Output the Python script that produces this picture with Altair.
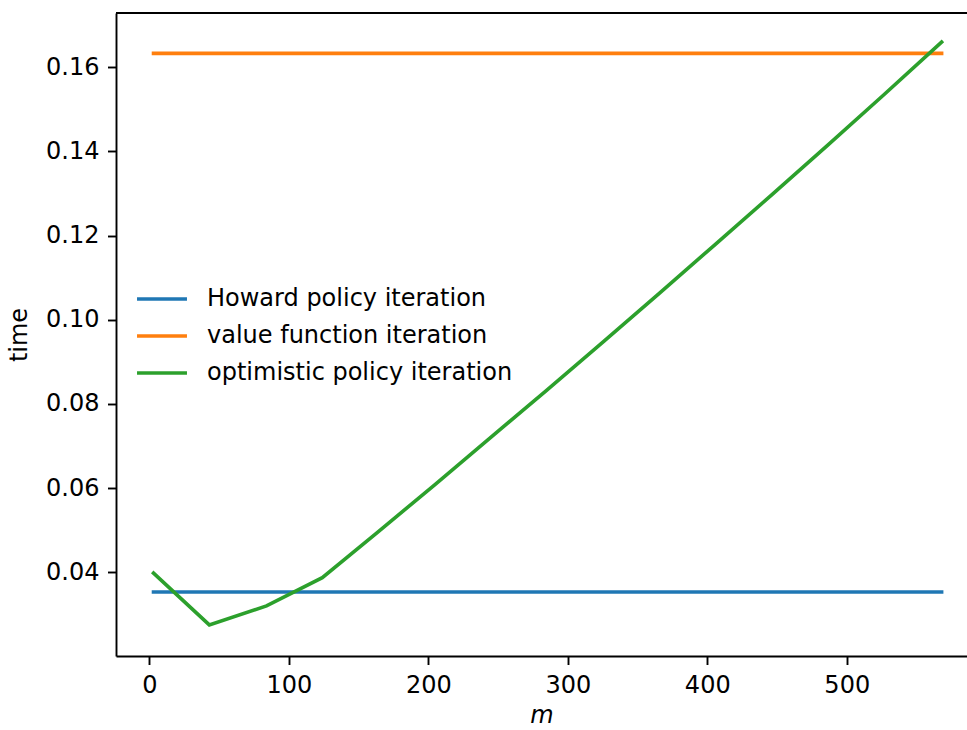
import altair as alt
import pandas as pd

# Grid of m values (steps of ~40) at which the solvers were timed
m_values = [3, 43, 84, 124, 164, 205, 245, 285, 326, 366, 406, 447, 487, 527, 568]

# Timings in seconds
howard_time = 0.0353
vfi_time = 0.1633
opi_times = [0.0398, 0.0275, 0.0320, 0.0387, 0.0496, 0.0609, 0.0721, 0.0833,
             0.0949, 0.1064, 0.1180, 0.1299, 0.1417, 0.1536, 0.1660]

series_names = ["Howard policy iteration", "value function iteration",
                "optimistic policy iteration"]
series_colors = ["#1f77b4", "#ff7f0e", "#2ca02c"]

rows = []
for m in m_values:
    rows.append({"series": series_names[0], "m": m, "time": howard_time})
for m in m_values:
    rows.append({"series": series_names[1], "m": m, "time": vfi_time})
for m, t in zip(m_values, opi_times):
    rows.append({"series": series_names[2], "m": m, "time": t})
df = pd.DataFrame(rows)

FONT = "DejaVu Sans"
FS = 24
W, H = 851, 643

lines = alt.Chart(df).mark_line(strokeWidth=3.6, strokeCap="square").encode(
    x=alt.X("m:Q",
            scale=alt.Scale(domain=[-23.9, 586.2], nice=False, zero=False),
            axis=alt.Axis(values=[0, 100, 200, 300, 400, 500], format="d",
                          title="m", titleFontStyle="italic", titlePadding=6)),
    y=alt.Y("time:Q",
            scale=alt.Scale(domain=[0.0201, 0.1729], nice=False, zero=False),
            axis=alt.Axis(values=[0.04, 0.06, 0.08, 0.10, 0.12, 0.14, 0.16],
                          format=".2f", title="time", titlePadding=14)),
    color=alt.Color("series:N",
                    scale=alt.Scale(domain=series_names, range=series_colors),
                    legend=alt.Legend(title=None, orient="none",
                                      legendX=21.5, legendY=261.5,
                                      symbolType="M-1.11,0H1.11", symbolSize=2025,
                                      symbolStrokeWidth=3.6, labelFontSize=FS,
                                      labelFont=FONT, labelColor="#000000",
                                      labelOffset=20.5, rowPadding=0,
                                      labelLimit=600)),
    order=alt.Order("m:Q"),
)

# Top frame line (the plot is open on the right)
top_frame = alt.Chart(pd.DataFrame({"k": [0]})).mark_rule(
    color="#000000", strokeWidth=1.9
).encode(x=alt.value(0), x2=alt.value(W), y=alt.value(0))

chart = alt.layer(lines, top_frame).properties(
    width=W, height=H,
    autosize=alt.AutoSizeParams(type="none"),
    padding={"left": 116, "top": 13, "right": 0, "bottom": 74},
).configure_view(stroke=None).configure_axis(
    labelFont=FONT, titleFont=FONT, labelFontSize=FS, titleFontSize=FS,
    labelColor="#000000", titleColor="#000000", titleFontWeight="normal",
    domainColor="#000000", domainWidth=1.9, tickColor="#000000",
    tickWidth=1.9, tickSize=8.5, labelPadding=8.5, grid=False,
)

chart.save("out.html", embed_options={"renderer": "svg", "actions": False})
